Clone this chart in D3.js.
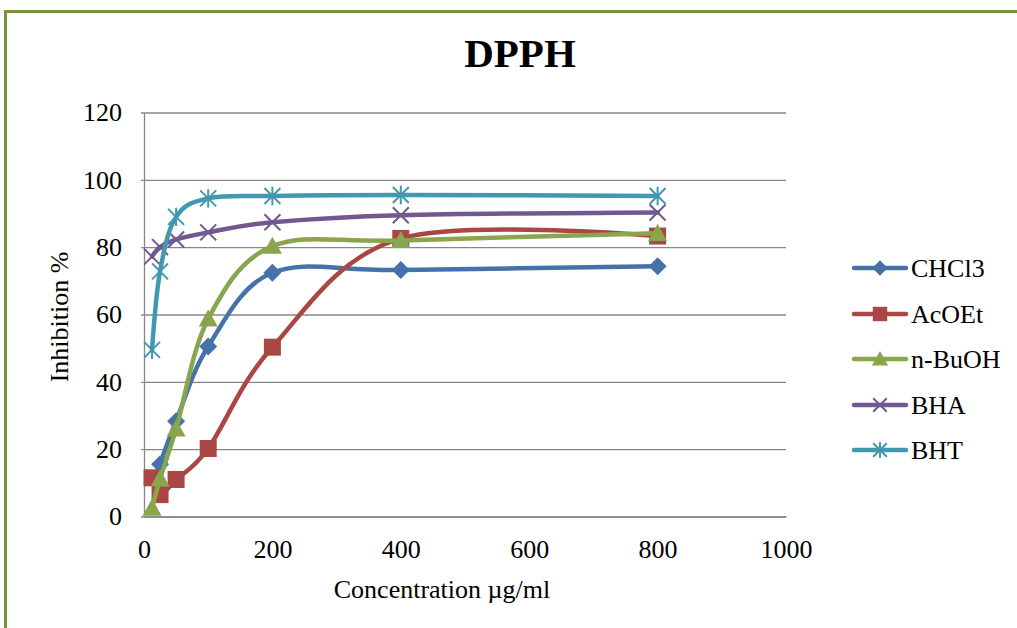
<!DOCTYPE html>
<html>
<head>
<meta charset="utf-8">
<script src="https://cdn.jsdelivr.net/npm/d3@7"></script>
<style>
  body { margin: 0; background: #fff; }
  svg { display: block; font-family: "Liberation Serif", "Times New Roman", serif; }
</style>
</head>
<body>
<svg id="chart" width="1017" height="628"></svg>
<script>
// concentrations (µg/ml)
var concentrations = [12.5, 25, 50, 100, 200, 400, 800];

// inhibition % per extract / standard (null = no point)
var chcl3 = [null, 15.5, 28.3, 50.5, 72.4, 73.2, 74.3];
var acoet = [11.5, 6.5, 11, 20.2, 50.3, 82.6, 83.3];
var nbuoh = [2.5, 11.2, 26, 58.7, 80.3, 82, 84.1];
var bha = [77.2, 80, 82.3, 84.4, 87.4, 89.5, 90.3];
var bht = [49.5, 72.8, 89, 94.5, 95.2, 95.5, 95.2];

var seriesNames = ['CHCl3', 'AcOEt', 'n-BuOH', 'BHA', 'BHT'];
var seriesValues = [chcl3, acoet, nbuoh, bha, bht];
var seriesColors = ['#4573A7', '#AA4643', '#89A54E', '#71588F', '#4198AF'];

var xTicks = [0, 200, 400, 600, 800, 1000];
var yTicks = [0, 20, 40, 60, 80, 100, 120];

var svg = d3.select('#chart');

// green frame
var frameColor = '#77933C';
svg.append('line').attr('x1', 4).attr('x2', 1017).attr('y1', 11.5).attr('y2', 11.5)
    .attr('stroke', frameColor).attr('stroke-width', 3);
svg.append('line').attr('x1', 5.5).attr('x2', 5.5).attr('y1', 10).attr('y2', 628)
    .attr('stroke', frameColor).attr('stroke-width', 3);

var plotLeft = 144, plotRight = 786, plotTop = 112.5, plotBottom = 516.5;

var x = d3.scaleLinear().domain([0, 1000]).range([plotLeft, plotRight]);
var y = d3.scaleLinear().domain([0, 120]).range([plotBottom, plotTop]);

var gridColor = '#878787';
var fontSize = 26;

// y axis + gridlines
var yAxis = svg.append('g')
    .attr('transform', 'translate(' + plotLeft + ',0)')
    .call(d3.axisLeft(y).tickValues(yTicks).tickFormat(d3.format('d'))
        .tickSizeInner(-(plotRight - plotLeft)).tickSizeOuter(0).tickPadding(22));
yAxis.selectAll('line').attr('x1', -3).attr('stroke', gridColor).attr('stroke-width', 1.3);
yAxis.select('.domain').attr('stroke', gridColor).attr('stroke-width', 1.3);
yAxis.selectAll('text').attr('font-size', fontSize).attr('font-family', 'Liberation Serif').attr('fill', '#000');

// x axis
var xAxis = svg.append('g')
    .attr('transform', 'translate(0,' + plotBottom + ')')
    .call(d3.axisBottom(x).tickValues(xTicks).tickFormat(d3.format('d')).tickSize(0).tickPadding(23));
xAxis.select('.domain').attr('stroke', gridColor).attr('stroke-width', 1.3);
xAxis.selectAll('text').attr('font-size', fontSize).attr('font-family', 'Liberation Serif').attr('fill', '#000');

// titles
svg.append('text').attr('x', 520).attr('y', 67).attr('text-anchor', 'middle')
    .attr('font-size', 41).attr('font-weight', 'bold').text('DPPH');
svg.append('text').attr('x', 442).attr('y', 598).attr('text-anchor', 'middle')
    .attr('font-size', fontSize).text('Concentration µg/ml');
svg.append('text').attr('transform', 'translate(68,317) rotate(-90)').attr('text-anchor', 'middle')
    .attr('font-size', fontSize).text('Inhibition %');

// marker shapes (Excel-like), size = half width in px
var diamondSymbol = {
    draw: function (ctx, r) {
        ctx.moveTo(0, -r); ctx.lineTo(r, 0); ctx.lineTo(0, r); ctx.lineTo(-r, 0); ctx.closePath();
    }
};
var squareSymbol = {
    draw: function (ctx, r) { ctx.rect(-r, -r, 2 * r, 2 * r); }
};
var triangleSymbol = {
    draw: function (ctx, r) {
        ctx.moveTo(0, -r); ctx.lineTo(r, r * 0.8); ctx.lineTo(-r, r * 0.8); ctx.closePath();
    }
};
var xSymbol = {
    draw: function (ctx, r) {
        ctx.moveTo(-r, -r); ctx.lineTo(r, r);
        ctx.moveTo(-r, r); ctx.lineTo(r, -r);
    }
};
var starSymbol = {
    draw: function (ctx, r) {
        ctx.moveTo(-r, -r); ctx.lineTo(r, r);
        ctx.moveTo(-r, r); ctx.lineTo(r, -r);
        ctx.moveTo(0, -r * 1.15); ctx.lineTo(0, r * 1.15);
    }
};
var markers = [
    {type: diamondSymbol, size: 9, filled: true},
    {type: squareSymbol, size: 8.5, filled: true},
    {type: triangleSymbol, size: 9.5, filled: true},
    {type: xSymbol, size: 8, filled: false},
    {type: starSymbol, size: 8, filled: false}
];

var line = d3.line()
    .x(d => x(d.c))
    .y(d => y(d.v))
    .curve(d3.curveCatmullRom.alpha(0));

seriesNames.forEach(function (name, i) {
    var pts = concentrations.map(function (c, j) {
        return {c: c, v: seriesValues[i][j]};
    }).filter(d => d.v !== null);
    var color = seriesColors[i];
    var g = svg.append('g');
    g.append('path').datum(pts)
        .attr('d', line)
        .attr('fill', 'none')
        .attr('stroke', color)
        .attr('stroke-width', 4.5)
        .attr('stroke-linecap', 'round')
        .attr('stroke-linejoin', 'round');
    var m = markers[i];
    g.selectAll('path.mk').data(pts).enter().append('path')
        .attr('class', 'mk')
        .attr('transform', d => 'translate(' + x(d.c) + ',' + y(d.v) + ')')
        .attr('d', d3.symbol().type(m.type).size(m.size))
        .attr('fill', m.filled ? color : 'none')
        .attr('stroke', color)
        .attr('stroke-width', m.filled ? 0 : 2);
});

// legend
var legendY = [268, 314, 359, 405, 450];
seriesNames.forEach(function (name, i) {
    var color = seriesColors[i];
    var m = markers[i];
    var g = svg.append('g').attr('transform', 'translate(0,' + legendY[i] + ')');
    g.append('line').attr('x1', 854).attr('x2', 906).attr('y1', 0).attr('y2', 0)
        .attr('stroke', color).attr('stroke-width', 4.5).attr('stroke-linecap', 'round');
    g.append('path').attr('transform', 'translate(880,0)')
        .attr('d', d3.symbol().type(m.type).size(m.size * 0.85))
        .attr('fill', m.filled ? color : 'none')
        .attr('stroke', color)
        .attr('stroke-width', m.filled ? 0 : 2);
    g.append('text').attr('x', 911).attr('y', 9).attr('font-size', fontSize).text(name);
});
</script>
</body>
</html>
